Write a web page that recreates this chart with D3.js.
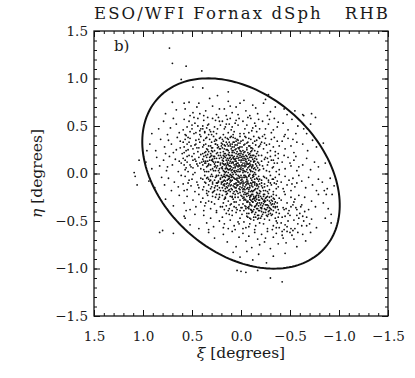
<!DOCTYPE html>
<html>
<head>
<meta charset="utf-8">
<script src="https://cdn.jsdelivr.net/npm/d3@7"></script>
<style>
body { margin: 0; background: #fff; }
svg { display: block; }
</style>
</head>
<body>
<svg id="chart"></svg>
<script>
var title = "ESO/WFI Fornax dSph   RHB";
var panelLabel = "b)";
var xTicks = [1.5, 1.0, 0.5, 0.0, -0.5, -1.0, -1.5];
var yTicks = [-1.5, -1.0, -0.5, 0.0, 0.5, 1.0, 1.5];

// tidal ellipse: semi-major, semi-minor (deg) and angle of the major axis from the xi axis (deg)
var ellipseAxes = [1.16, 0.82];
var ellipseAngle = 44.5;

// RHB stars, xi/eta pairs in hundredths of a degree
var starPos = [
  73,132, 70,116, 56,113, 40,108, 61,99, 109,1, 108,-3, 106,-12, 104,14, 96,24,
  83,-62, 80,-60, 69,-63, 4,-102, 0,-103, -5,-104, -17,-102, -30,-110, -42,-114,
  -76,59, -63,62, -92,-43, -92,-52, -85,-18, -87,-22, -93,-22,
  49,91, 39,90, 24,82, -28,83, 13,86,
  // eta 0.8 .. 0.6
  70,75, 77,63, 66,67,
  58,74, 53,75, 43,74, 57,68, 49,64, 45,70, 52,61, 42,63,
  32,79, 36,66, 29,71, 25,62, 38,61, 22,68,
  13,76, 1,74, 17,68, 9,64, 5,70, 15,61, 3,62, 11,71,
  -5,66, -12,72, -17,63, -9,61, -3,77, -15,69,
  -23,74, -25,78, -30,65, -35,70, -27,61,
  -47,62, -55,66, -44,68, -64,61, -72,63,
  // eta 0.6 .. 0.4
  84,47, 91,42,
  79,55, 72,48, 66,52, 63,43, 75,41, 69,58,
  58,57, 55,49, 52,44, 47,53, 44,58, 41,47, 57,41, 50,51, 46,43, 53,55, 42,41, 59,46, 48,59, 44,50,
  38,56, 35,48, 33,52, 31,44, 29,58, 27,49, 25,42, 22,55, 37,43, 34,59, 30,41, 24,47, 21,51, 39,50, 26,56, 32,46, 28,44, 23,59,
  19,55, 17,47, 15,52, 13,43, 11,58, 9,49, 7,44, 5,56, 3,51, 1,42, 18,41, 14,57, 10,46, 6,53, 2,58, 16,49, 8,41, 12,52,
  -2,55, -4,47, -6,51, -8,43, -10,58, -12,48, -14,53, -16,44, -18,57, -3,42, -7,59, -11,45, -15,50, -19,47,
  -22,55, -25,47, -28,52, -31,43, -34,58, -37,49, -24,41, -29,57, -33,46, -38,54,
  -43,53, -48,46, -52,57, -56,42, -45,41, -58,50,
  -64,47, -71,52, -67,42,
  // eta 0.4 .. 0.2
  93,31, 87,24, 82,36,
  78,28, 74,35, 69,22, 65,38, 62,27, 77,21, 71,31, 66,25,
  59,33, 56,24, 54,38, 51,29, 48,21, 46,35, 43,27, 41,39, 58,22, 55,31, 52,37, 49,26, 47,30, 44,23, 42,33, 57,36,
  39,28, 38,35, 37,22, 36,31, 35,38, 34,25, 33,29, 32,36, 31,21, 30,33, 29,27, 28,39, 27,24, 26,31, 25,35,
  24,22, 23,28, 22,37, 21,26, 20,32, 39,21, 36,37, 33,23, 30,27, 27,34, 24,30, 21,38, 38,30, 29,23, 26,36,
  19,27, 18,34, 17,21, 16,38, 15,25, 14,31, 13,36, 12,22, 11,29, 10,39, 9,24, 8,33, 7,28, 6,37, 5,21, 4,30, 3,35, 2,26, 1,32, 0,23,
  19,36, 17,30, 15,33, 13,24, 11,38, 9,31, 7,22, 5,34, 3,27, 1,39, 18,23, 16,29, 14,37, 12,33, 10,26, 8,38, 6,25, 4,36, 2,21, 0,34,
  -1,28, -2,35, -3,22, -4,31, -5,38, -6,25, -7,33, -8,29, -9,21, -10,36, -11,27, -12,32, -13,39, -14,24, -15,30,
  -16,35, -17,23, -18,28, -19,37, -20,31, -2,24, -4,39, -6,32, -8,37, -10,23, -12,26, -14,34, -16,21, -18,38, -19,29,
  -21,33, -23,26, -25,37, -27,22, -29,31, -31,36, -33,28, -35,23, -37,34, -39,29, -22,39, -26,30, -30,24, -34,38, -38,21, -24,32,
  -42,34, -45,26, -48,37, -51,29, -54,22, -57,33, -44,39, -53,36,
  -63,31, -68,24, -73,35, -77,28,
  -84,32,
  // eta 0.2 .. 0.0
  97,12, 91,5, 86,17, 83,8,
  79,14, 76,3, 73,18, 70,9, 67,15, 64,2, 61,11, 75,7,
  59,16, 57,4, 55,12, 53,19, 51,7, 49,14, 47,1, 45,10, 43,17, 41,5, 58,9, 54,2, 50,18, 46,13, 42,11, 56,6,
  39,15, 38,4, 37,11, 36,19, 35,7, 34,13, 33,2, 32,17, 31,9, 30,14, 29,5, 28,18, 27,10, 26,3, 25,16, 24,8, 23,12, 22,1,
  21,19, 20,6, 39,9, 37,2, 35,17, 33,10, 31,4, 29,13, 27,16, 25,6, 23,19, 21,11, 38,13, 34,8, 30,19, 26,12, 22,5,
  19,14, 18,3, 17,9, 16,17, 15,6, 14,12, 13,1, 12,19, 11,8, 10,15, 9,4, 8,11, 7,18, 6,7, 5,13, 4,2, 3,16, 2,9, 1,5, 0,12,
  19,7, 18,16, 17,2, 16,10, 15,19, 14,5, 13,14, 12,8, 11,17, 10,3, 9,12, 8,6, 7,15, 6,1, 5,10, 4,18, 3,7, 2,14, 1,19, 0,4,
  19,11, 17,18, 15,2, 13,9, 11,13, 9,19, 7,3, 5,16, 3,11, 1,8, 18,10, 16,5, 14,16, 12,4, 10,11, 8,17, 6,13, 4,8, 2,2, 0,17,
  -1,14, -2,5, -3,18, -4,9, -5,2, -6,12, -7,16, -8,7, -9,11, -10,3, -11,17, -12,8, -13,13, -14,1, -15,10,
  -16,15, -17,6, -18,19, -19,4, -1,8, -3,3, -5,15, -7,10, -9,17, -11,6, -13,19, -15,4, -17,12, -19,9,
  -2,16, -4,11, -6,4, -8,14, -10,19, -12,2, -14,13, -16,8, -18,11, -2,1, -6,18, -10,9, -14,6, -18,3, -4,7, -12,15,
  -21,13, -23,5, -25,17, -27,9, -29,2, -31,14, -33,7, -35,19, -37,11, -39,4, -22,8,
  -24,15, -26,3, -28,12, -30,18, -32,6, -34,11, -36,2, -38,16, -21,19, -27,16, -33,14,
  -42,12, -45,5, -48,17, -51,8, -54,14, -57,3, -44,19, -50,11, -56,18, -59,7,
  -63,9, -67,16, -71,4, -75,12, -79,7,
  -86,11,
  // eta 0.0 .. -0.2
  94,-8, 88,-15, 81,-4,
  78,-12, 74,-5, 71,-18, 68,-9, 64,-14, 61,-2,
  59,-11, 57,-3, 55,-17, 53,-7, 51,-13, 49,-1, 47,-19, 45,-9, 43,-15, 41,-5, 58,-18, 54,-10, 50,-6, 44,-12,
  39,-6, 38,-14, 37,-2, 36,-10, 35,-18, 34,-4, 33,-12, 32,-8, 31,-16, 30,-1, 29,-11, 28,-19, 27,-7, 26,-13, 25,-3,
  24,-17, 23,-9, 22,-15, 21,-5, 20,-11, 39,-17, 37,-9, 35,-5, 33,-19, 31,-7, 29,-3, 27,-15, 25,-10, 23,-2, 21,-18,
  19,-4, 18,-12, 17,-7, 16,-16, 15,-2, 14,-10, 13,-18, 12,-5, 11,-13, 10,-8, 9,-17, 8,-1, 7,-11, 6,-15, 5,-6, 4,-19, 3,-9,
  2,-3, 1,-14, 0,-7, 19,-15, 17,-1, 15,-11, 13,-6, 11,-19, 9,-3, 7,-14, 5,-10, 3,-2, 1,-17, 18,-8, 16,-4, 14,-15,
  12,-11, 10,-2, 8,-13, 6,-6, 4,-12, 2,-16, 0,-10, 19,-9, 16,-19, 13,-3, 10,-16, 7,-5, 4,-7, 1,-4, 17,-13, 11,-9, 5,-18,
  -1,-6, -2,-13, -3,-2, -4,-17, -5,-9, -6,-4, -7,-15, -8,-11, -9,-1, -10,-19, -11,-7, -12,-14, -13,-3, -14,-10, -15,-16,
  -16,-5, -17,-12, -18,-8, -19,-18, -1,-15, -3,-10, -5,-3, -7,-8, -9,-13, -11,-18, -13,-9, -15,-1, -17,-6, -19,-11,
  -2,-8, -4,-4, -6,-16, -8,-19, -10,-10, -12,-2, -14,-17, -16,-13, -18,-3, -2,-19, -6,-11, -10,-5, -14,-6, -18,-14, -8,-3, -12,-9,
  -21,-7, -22,-15, -23,-3, -24,-11, -25,-18, -26,-5, -27,-13, -28,-9, -29,-17, -30,-2, -31,-12, -32,-6, -33,-19,
  -34,-10, -35,-4, -36,-16, -37,-8, -38,-14, -39,-1, -21,-13, -24,-4, -27,-19, -30,-10, -33,-6, -36,-11,
  -41,-9, -43,-16, -45,-3, -47,-12, -49,-7, -51,-18, -53,-5, -55,-14, -57,-10, -59,-2, -44,-19, -52,-11,
  -62,-8, -66,-15, -69,-4, -73,-12, -77,-18, -79,-6,
  -83,-9, -88,-16, -91,-5, -95,-13,
  // eta -0.2 .. -0.4
  77,-27, 69,-34, 63,-23,
  58,-31, 55,-24, 52,-38, 49,-28, 46,-35, 43,-22, 41,-30, 56,-39,
  39,-26, 37,-34, 35,-21, 33,-29, 31,-37, 29,-24, 27,-32, 25,-39, 23,-27, 21,-35, 38,-39, 34,-23, 30,-30, 26,-25, 22,-22, 36,-31,
  19,-23, 18,-31, 17,-38, 16,-26, 15,-34, 14,-21, 13,-29, 12,-37, 11,-24, 10,-32, 9,-39, 8,-27, 7,-35, 6,-22, 5,-30,
  4,-38, 3,-25, 2,-33, 1,-28, 0,-36, 19,-35, 17,-27, 15,-22, 13,-39, 11,-33, 9,-25, 7,-30, 5,-36, 3,-21, 1,-39,
  -1,-24, -2,-32, -3,-39, -4,-27, -5,-35, -6,-21, -7,-29, -8,-37, -9,-25, -10,-33, -11,-22, -12,-30, -13,-38, -14,-26,
  -15,-34, -16,-23, -17,-31, -18,-39, -19,-28, -1,-36, -3,-22, -5,-28, -7,-36, -9,-31, -11,-39, -13,-24, -15,-29,
  -17,-37, -19,-21, -2,-26, -4,-34, -6,-30, -8,-23, -10,-38, -12,-27, -14,-35, -16,-32, -18,-25, -20,-33, -10,-28,
  -21,-26, -22,-34, -23,-22, -24,-30, -25,-38, -26,-25, -27,-33, -28,-21, -29,-29, -30,-37, -31,-24, -32,-32, -33,-39, -34,-27,
  -35,-35, -36,-23, -37,-31, -38,-38, -39,-26, -21,-37, -23,-29, -25,-33, -27,-24, -29,-36, -31,-28, -33,-22, -35,-30, -37,-35,
  -41,-28, -43,-36, -45,-22, -47,-31, -49,-39, -51,-25, -53,-33, -55,-27, -57,-38, -59,-23, -46,-37, -54,-30,
  -62,-33, -65,-25, -69,-38, -72,-29, -76,-35, -79,-22,
  -84,-31, -89,-37,
  // eta -0.4 .. -0.6
  58,-45, 57,-47, 52,-54, 47,-43, 43,-58,
  38,-44, 35,-52, 31,-47, 28,-56, 25,-41, 22,-50, 33,-59,
  19,-46, 17,-53, 15,-42, 13,-58, 11,-49, 9,-44, 7,-55, 5,-41, 3,-51, 1,-47, 18,-57, 12,-43, 6,-59, 2,-53,
  -1,-43, -3,-51, -5,-57, -7,-46, -9,-53, -11,-41, -13,-49, -15,-55, -17,-44, -19,-52, -2,-58, -6,-42, -10,-48, -14,-59, -18,-47, -8,-56,
  -21,-45, -23,-53, -25,-41, -27,-58, -29,-49, -31,-44, -33,-55, -35,-47, -37,-52, -39,-42, -24,-48, -28,-43, -32,-59, -36,-57,
  -42,-46, -45,-54, -48,-42, -51,-58, -54,-49, -57,-44, -44,-59, -58,-53,
  -63,-45, -67,-55, -72,-48, -77,-57,
  -86,-47,
  // eta -0.6 .. -1.0
  33,-62, 27,-68,
  18,-64, 14,-72, 9,-61, 5,-77, 2,-67,
  -2,-63, -5,-71, -8,-66, -11,-78, -14,-62, -17,-69, -19,-75,
  -21,-64, -24,-72, -27,-61, -30,-79, -33,-67, -36,-63, -38,-74, -25,-68,
  -42,-65, -46,-73, -50,-62, -54,-69, -57,-77, -47,-61,
  -63,-64, -66,-71, -71,-62,
  8,-83, 1,-88, -6,-82, -12,-91, -18,-85, -26,-94, -33,-87, -45,-84,
  // dense core around the centre
  28,12, 24,27, 19,31, 15,8, 12,-3, 9,22, 6,15, 3,-8, 1,28, -2,11, -5,19, -8,-2, -11,24, -13,5,
  26,-4, 22,16, 17,-11, 14,25, 10,7, 7,33, 4,-13, 0,14, -3,30, -6,-6, -9,17, -12,9, -14,-9,
  31,18, 27,7, 21,-6, 16,21, 11,-1, 8,12, 5,26, 2,-5, -1,9, -4,23, -7,1, -10,13, -15,18,
  29,-9, 23,3, 18,19, 13,29, 9,-7, 6,6, 3,20, 0,-2, -3,14, -6,27, -9,4, -12,-4,
  33,9, 25,21, 20,-2, 15,14, 11,31, 8,-4, 4,11, 1,24, -2,3, -5,8, -8,20, -11,-11,
  35,2, 30,24, 24,-13, 19,5, 14,-7, 10,19, 7,2, 3,32, 0,6, -4,16, -7,-10, -10,27, -13,12,
  32,14, 26,31, 21,9, 17,26, 12,11, 8,24, 5,-1, 2,17, -1,-9, -4,2, -7,22, -11,7, -14,16,
  28,3, 23,-8, 18,13, 13,4, 9,28, 6,-11, 3,4, 0,21, -3,-4, -6,10, -9,29, -12,19,
  34,20, 29,15, 25,-2, 20,29, 16,1, 12,16, 7,9, 4,23, 1,2, -2,20, -5,-12, -8,10, -10,2,
  27,18, 22,26, 18,-3, 14,10, 10,-12, 6,30, 2,8, -1,18, -4,-2, -7,6, -13,-1,
  36,11, 31,-3, 26,8, 21,22, 15,-14, 11,5, 8,16, 5,3, 2,27, -2,-11, -5,13, -9,8,
  24,12, 20,17, 16,-8, 13,20, 9,1, 5,9, 1,-11, -3,8,
  // secondary clump south-west of the centre
  -6,-24, -9,-33, -12,-19, -15,-41, -18,-28, -21,-36, -24,-22, -27,-45, -30,-31, -33,-26,
  -8,-42, -11,-29, -14,-35, -17,-21, -20,-47, -23,-32, -26,-38, -29,-25, -32,-43,
  -7,-30, -10,-23, -13,-46, -16,-33, -19,-39, -22,-27, -25,-29, -28,-34, -31,-38, -34,-32,
  -5,-37, -9,-27, -12,-40, -15,-25, -18,-44, -21,-31, -24,-37, -27,-28, -30,-42, -35,-36,
  -4,-20, -11,-34, -14,-28, -17,-48, -20,-24, -23,-41, -26,-33, -29,-39, -32,-29,
  -6,-45, -10,-38, -13,-26, -16,-37, -19,-31, -22,-43, -25,-26, -28,-40, -31,-33, -36,-41,
  -8,-35, -12,-30, -15,-46, -18,-34, -21,-40, -24,-28, -27,-36, -3,-28, -26,-44, -20,-36,
  -14,-43, -9,-47, -33,-35, -16,-27, -23,-24,
  30,-14, 25,-22, 20,-9, 16,-25, 12,-17, 8,-21, 4,-5, 0,-23, -4,-14, -8,-17, -12,-22, -16,-11, -20,-19, -24,-14, -28,-7,
  27,-18, 22,-25, 17,-3, 13,-13, 9,-24, 5,-15, 1,-20, -3,-16, -7,-21, -11,-13, -15,-24, -19,-6, -23,-18,
  33,-6, 18,-18, 11,-7, 7,-19, 3,-12, -1,-4, -5,-22, -9,-15, -13,-18, -17,-16, -21,-10,
  24,-10, 14,-2, 6,-25, 2,-9, -2,-17, -6,-8, -10,-24, -14,-12, -18,-23, 29,-20, 15,-19, 10,-4, -3,-25, -16,-20,
  // extra stars along the major axis
  62,34, 55,18, 48,42, 45,27, 39,47, 36,13, 52,9, 58,28, 43,36, 35,26, 47,15, 41,20, 37,44, 60,21, 53,33,
  33,41, 50,47, 44,8, 38,18, 56,40, 31,29, 46,31, 40,12, 34,51, 54,25, 49,6, 42,45, 63,13, 36,23, 57,14,
  -38,-46, -41,-52, -44,-38, -47,-56, -50,-44, -53,-60, -56,-36, -59,-47, -62,-55, -65,-40, -42,-61, -48,-50,
  -51,-35, -55,-58, -60,-42, -64,-50, -39,-57, -45,-45, -58,-62, -67,-46, -36,-50, -52,-65, -70,-53, -43,-68, -61,-35
];

var stars = [];
for (var i = 0; i + 1 < starPos.length; i += 2) {
  stars.push({ xi: starPos[i] / 100, eta: starPos[i + 1] / 100 });
}

var W = 415, H = 378;
var plotLeft = 94, plotRight = 388, plotTop = 31, plotBottom = 316;
var serif = "'DejaVu Serif', 'Liberation Serif', serif";

var svg = d3.select('#chart').attr('width', W).attr('height', H);
svg.append('rect').attr('width', W).attr('height', H).attr('fill', '#fff');

var x = d3.scaleLinear().domain([1.5, -1.5]).range([plotLeft, plotRight]);
var y = d3.scaleLinear().domain([-1.5, 1.5]).range([plotBottom, plotTop]);

var minorTicks = d3.range(-15, 16).map(function(d) { return d / 10; });
var noLabel = function() { return ''; };
var fmt = d3.format('.1f');

function tidy(g) {
  g.select('.domain').remove();
  g.selectAll('line').attr('stroke', '#111').attr('stroke-width', 1);
  g.selectAll('text')
    .attr('font-family', serif)
    .attr('font-size', 13.5)
    .attr('fill', '#1a1a1a');
}

// minor ticks, all four sides, pointing inward
svg.append('g').attr('transform', 'translate(0,' + plotBottom + ')')
  .call(d3.axisBottom(x).tickValues(minorTicks).tickSize(-3).tickFormat(noLabel)).call(tidy);
svg.append('g').attr('transform', 'translate(0,' + plotTop + ')')
  .call(d3.axisTop(x).tickValues(minorTicks).tickSize(-3).tickFormat(noLabel)).call(tidy);
svg.append('g').attr('transform', 'translate(' + plotLeft + ',0)')
  .call(d3.axisLeft(y).tickValues(minorTicks).tickSize(-3).tickFormat(noLabel)).call(tidy);
svg.append('g').attr('transform', 'translate(' + plotRight + ',0)')
  .call(d3.axisRight(y).tickValues(minorTicks).tickSize(-3).tickFormat(noLabel)).call(tidy);

// major ticks
svg.append('g').attr('transform', 'translate(0,' + plotBottom + ')')
  .call(d3.axisBottom(x).tickValues(xTicks).tickSize(-6).tickPadding(15).tickFormat(fmt)).call(tidy);
svg.append('g').attr('transform', 'translate(0,' + plotTop + ')')
  .call(d3.axisTop(x).tickValues(xTicks).tickSize(-6).tickFormat(noLabel)).call(tidy);
svg.append('g').attr('transform', 'translate(' + plotLeft + ',0)')
  .call(d3.axisLeft(y).tickValues(yTicks).tickSize(-6).tickPadding(6).tickFormat(fmt)).call(tidy);
svg.append('g').attr('transform', 'translate(' + plotRight + ',0)')
  .call(d3.axisRight(y).tickValues(yTicks).tickSize(-6).tickFormat(noLabel)).call(tidy);

// stars
svg.append('g').selectAll('circle')
  .data(stars)
  .enter()
  .append('circle')
  .attr('cx', function(d) { return x(d.xi); })
  .attr('cy', function(d) { return y(d.eta); })
  .attr('r', 0.9)
  .attr('fill', '#111');

// tidal ellipse
var phi = ellipseAngle * Math.PI / 180;
var ring = d3.range(0, 361, 2).map(function(t) {
  var a = t * Math.PI / 180;
  var u = ellipseAxes[0] * Math.cos(a), v = ellipseAxes[1] * Math.sin(a);
  return [u * Math.cos(phi) - v * Math.sin(phi), u * Math.sin(phi) + v * Math.cos(phi)];
});
svg.append('path')
  .datum(ring)
  .attr('d', d3.line().x(function(d) { return x(d[0]); }).y(function(d) { return y(d[1]); }))
  .attr('fill', 'none')
  .attr('stroke', '#111')
  .attr('stroke-width', 2);

// frame
svg.append('rect')
  .attr('x', plotLeft).attr('y', plotTop)
  .attr('width', plotRight - plotLeft).attr('height', plotBottom - plotTop)
  .attr('fill', 'none').attr('stroke', '#111').attr('stroke-width', 1.3);

// texts
svg.append('text')
  .attr('x', (plotLeft + plotRight) / 2).attr('y', 19)
  .attr('text-anchor', 'middle')
  .attr('font-family', serif).attr('font-size', 16.5)
  .attr('textLength', plotRight - plotLeft).attr('lengthAdjust', 'spacing')
  .style('white-space', 'pre')
  .attr('fill', '#1a1a1a')
  .text(title);

svg.append('text')
  .attr('x', 114).attr('y', 51)
  .attr('font-family', serif).attr('font-size', 15)
  .attr('fill', '#1a1a1a')
  .text(panelLabel);

var xLabel = svg.append('text')
  .attr('x', (plotLeft + plotRight) / 2).attr('y', 358)
  .attr('text-anchor', 'middle')
  .attr('font-family', serif).attr('font-size', 15.5)
  .attr('fill', '#1a1a1a');
xLabel.append('tspan').attr('font-style', 'italic').text('ξ');
xLabel.append('tspan').text(' [degrees]');

var yLabel = svg.append('text')
  .attr('transform', 'translate(42,' + ((plotTop + plotBottom) / 2) + ') rotate(-90)')
  .attr('text-anchor', 'middle')
  .attr('font-family', serif).attr('font-size', 15.5)
  .attr('fill', '#1a1a1a');
yLabel.append('tspan').attr('font-style', 'italic').text('η');
yLabel.append('tspan').text(' [degrees]');
</script>
</body>
</html>
